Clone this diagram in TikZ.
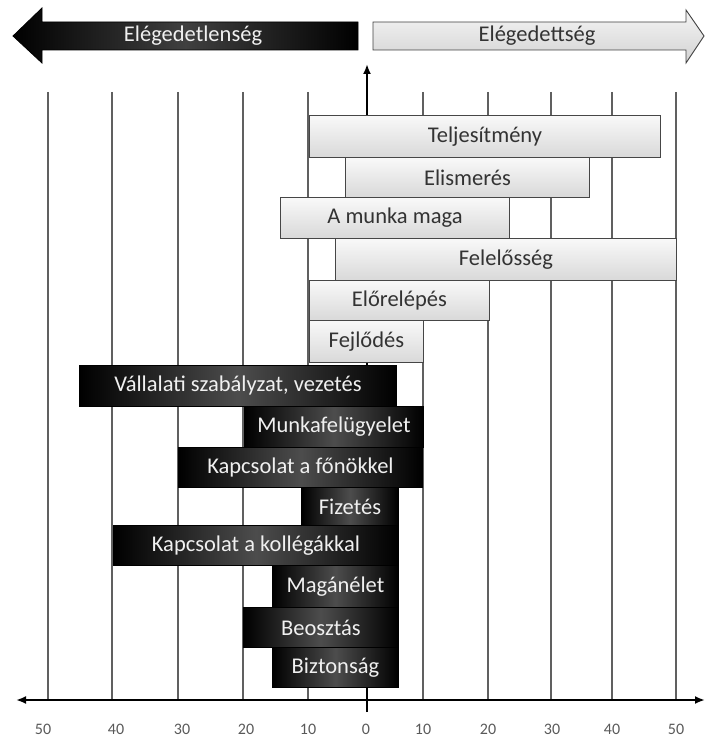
\documentclass[tikz,border=0pt]{standalone}
\usepackage{fontspec}
\setmainfont{Carlito}
\usetikzlibrary{arrows.meta}
% a bar whose corners are given directly: style, x1, y1, x2, y2, name, text
\newcommand\mkbar[7]{%
  \node[#1, minimum width=#4pt-#2pt, minimum height=#5pt-#3pt] (#6) at (#2,#3) {#7};}
\begin{document}
\begin{tikzpicture}[x=1pt,y=-1pt,
  >={Latex[length=10pt,width=8pt]},
  gridline/.style={draw=gray!75!black, line width=1.3pt},
  barfont/.style={font=\fontsize{22.5}{26}\selectfont},
  lightbar/.style={barfont, draw=gray!55!black, line width=0.9pt,
    top color=gray!5, bottom color=gray!30, inner sep=0pt,
    anchor=north west, text=black!80},
  darkbar/.style={barfont, draw=black, line width=0.9pt,
    left color=black, right color=black, middle color=gray!60!black,
    inner sep=0pt, anchor=north west, text=gray!12},
  ticklabel/.style={font=\fontsize{16}{18}\selectfont, text=black!65}
]
\useasboundingbox (0,0) rectangle (705,738);

% vertical grid
\foreach \gx in {48,112,178,243,308,423,488,551,612,676}
  \draw[gridline] (\gx,92) -- (\gx,700);

% zero line, running behind the bars
\coordinate (zbot) at (367,712);
\coordinate (ztop) at (367,64);
\draw[line width=2pt, ->] (zbot) -- (ztop);

% header arrows
\path[draw=black, line width=0.8pt, left color=black, right color=black,
      middle color=gray!50!black]
  (13,36) -- (42,8) -- (42,22) -- (358,22) -- (358,50) -- (42,50) -- (42,63) -- cycle;
\node[barfont, text=gray!12] (dis) at (193,36) {Elégedetlenség};
\path[draw=gray!50!black, line width=0.9pt, top color=gray!8, bottom color=gray!35]
  (373,22) -- (686,22) -- (686,10) -- (704,36) -- (686,63) -- (686,50) -- (373,50) -- cycle;
\node[barfont, text=black!80] (sat) at (537,36) {Elégedettség};

% light bars
\mkbar{lightbar}{309}{115}{660}{157}{b1}{Teljesítmény}
\mkbar{lightbar}{345}{157}{589}{197}{b2}{Elismerés}
\mkbar{lightbar}{280}{197}{509}{238}{b3}{A munka maga}
\mkbar{lightbar}{335}{238}{676}{280}{b4}{Felelősség}
\mkbar{lightbar}{309}{280}{489}{320}{b5}{Előrelépés}
\mkbar{lightbar}{309}{320}{423}{362}{b6}{Fejlődés}

% dark bars
\mkbar{darkbar}{79}{365}{396}{406}{d1}{Vállalati szabályzat, vezetés}
\mkbar{darkbar}{244}{406}{423}{447}{d2}{Munkafelügyelet}
\mkbar{darkbar}{178}{447}{422}{487}{d3}{Kapcsolat a főnökkel}
\mkbar{darkbar}{301}{487}{398}{525}{d4}{Fizetés}
\mkbar{darkbar}{113}{525}{398}{565}{d5}{Kapcsolat a kollégákkal}
\mkbar{darkbar}{272}{565}{398}{607}{d6}{Magánélet}
\mkbar{darkbar}{243}{607}{398}{647}{d7}{Beosztás}
\mkbar{darkbar}{272}{647}{398}{687}{d8}{Biztonság}

% horizontal axis
\coordinate (axl) at (16,700);
\coordinate (axr) at (705,700);
\draw[line width=2.2pt, <->] (axl) -- (axr);

% scale labels
\foreach \lx/\lv in {43/50,116/40,182/30,246/20,308/10,366/0,423/10,488/20,552/30,612/40,676/50}
  \node[ticklabel] at (\lx,729) {\lv};
\end{tikzpicture}
\end{document}
